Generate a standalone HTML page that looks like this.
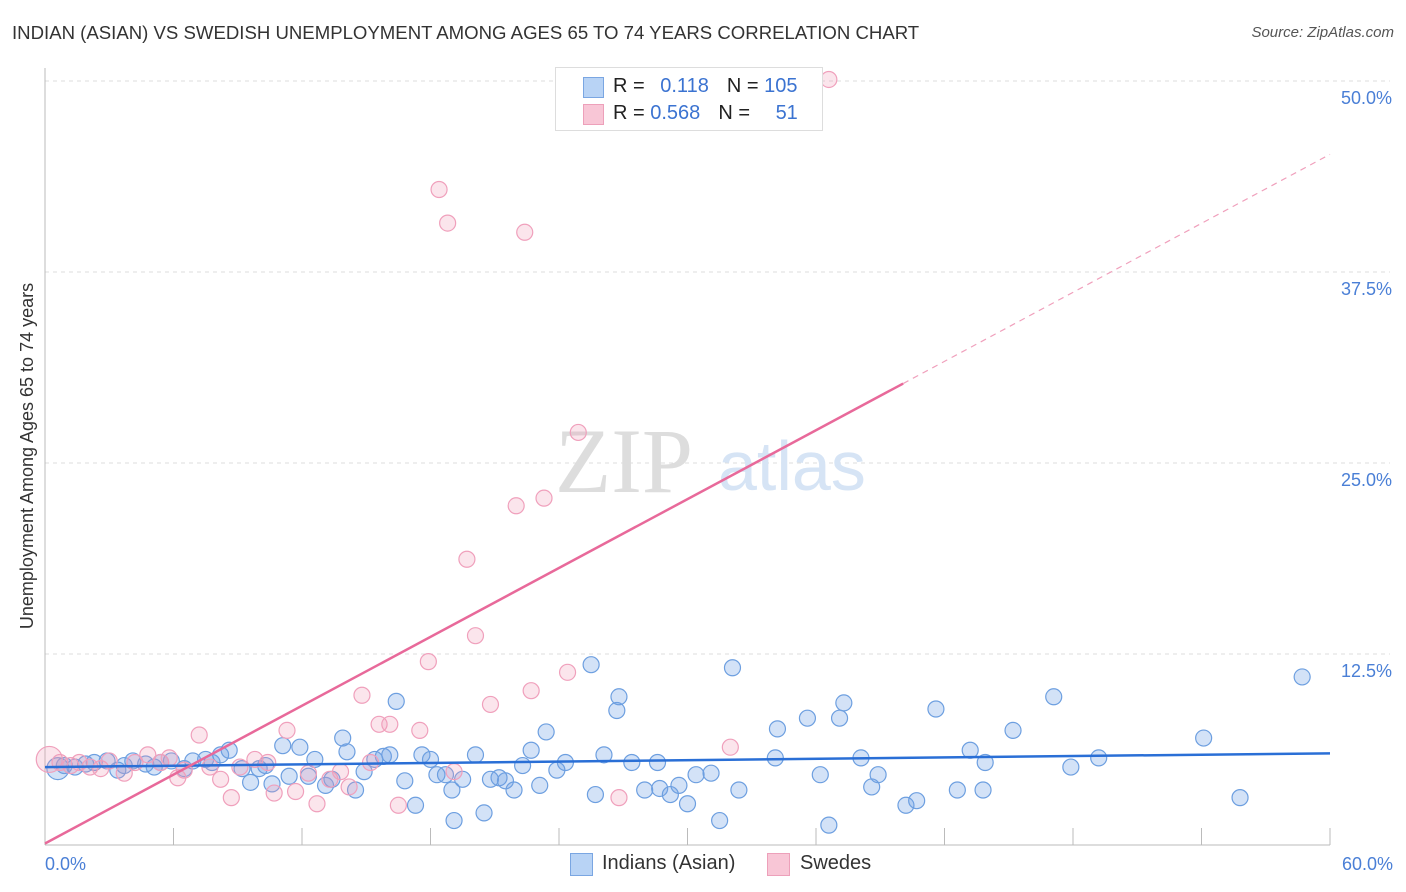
<!DOCTYPE html>
<html><head><meta charset="utf-8"><style>
body{margin:0;background:#fff;font-family:"Liberation Sans",sans-serif;}
#wrap{position:relative;width:1406px;height:892px;}
.t{position:absolute;white-space:nowrap;}
</style></head><body>
<div id="wrap">
<div class="t" style="left:12px;top:22px;font-size:18.6px;color:#333">INDIAN (ASIAN) VS SWEDISH UNEMPLOYMENT AMONG AGES 65 TO 74 YEARS CORRELATION CHART</div>
<div class="t" style="right:12px;top:24px;font-size:15px;color:#555;font-style:italic">Source: ZipAtlas.com</div>
<svg id="svg" width="1406" height="892" style="position:absolute;left:0;top:0"></svg>
</div>
<script>
const yTicks=[12.5,25,37.5,50];
const yTickLabels=["12.5%","25.0%","37.5%","50.0%"];
const xTicks=[0,6,12,18,24,30,36,42,48,54,60];
const blueX=[0.6,0.9,1.4,1.9,2.3,2.9,3.4,3.7,4.1,4.7,5.1,5.4,5.9,6.5,6.9,7.5,7.8,8.2,8.6,9.2,9.6,10.0,10.3,10.6,11.1,11.4,11.9,12.3,12.6,13.1,13.4,13.9,14.1,14.5,14.9,15.4,15.8,16.1,16.4,16.8,17.3,17.6,18.0,18.3,18.7,19.0,19.1,19.5,20.1,20.5,20.8,21.2,21.5,21.9,22.3,22.7,23.1,23.4,23.9,24.3,25.5,25.7,26.1,26.7,26.8,27.4,28.0,28.6,28.7,29.2,29.6,30.0,30.4,31.1,31.5,32.1,32.4,34.1,34.2,35.6,36.2,36.6,37.1,37.3,38.1,38.6,38.9,40.2,40.7,41.6,42.6,43.2,43.9,43.8,45.2,47.1,47.9,49.2,54.1,55.8,58.7];
const blueY=[5.0,5.2,5.1,5.3,5.4,5.5,4.9,5.2,5.5,5.3,5.1,5.4,5.5,5.0,5.5,5.6,5.4,5.9,6.2,5.0,4.1,5.0,5.2,4.0,6.5,4.5,6.4,4.5,5.6,3.9,4.3,7.0,6.1,3.6,4.8,5.6,5.8,5.9,9.4,4.2,2.6,5.9,5.6,4.6,4.6,3.6,1.6,4.3,5.9,2.1,4.3,4.4,4.2,3.6,5.2,6.2,3.9,7.4,4.9,5.4,11.8,3.3,5.9,8.8,9.7,5.4,3.6,5.4,3.7,3.3,3.9,2.7,4.6,4.7,1.6,11.6,3.6,5.7,7.6,8.3,4.6,1.3,8.3,9.3,5.7,3.8,4.6,2.6,2.9,8.9,3.6,6.2,5.4,3.6,7.5,9.7,5.1,5.7,7.0,3.1,11.0];
const pinkX=[0.2,0.7,1.2,1.6,2.1,2.6,3.0,3.7,4.2,4.8,5.4,5.8,6.2,6.5,7.2,7.7,8.2,8.7,9.1,9.8,10.4,10.7,11.3,11.7,12.3,12.7,13.3,13.8,14.2,14.8,15.2,15.6,16.1,16.5,17.5,17.9,18.4,18.8,19.1,19.7,20.1,20.8,22.0,22.4,22.7,23.3,24.4,24.9,26.8,32.0,36.6];
const pinkY=[5.6,5.4,5.2,5.4,5.1,5.0,5.5,4.7,5.4,5.9,5.4,5.7,4.4,4.9,7.2,5.1,4.3,3.1,5.1,5.6,5.4,3.4,7.5,3.5,4.7,2.7,4.3,4.8,3.8,9.8,5.4,7.9,7.9,2.6,7.5,12.0,42.9,40.7,4.8,18.7,13.7,9.2,22.2,40.1,10.1,22.7,11.3,27.0,3.1,6.4,50.1];
const blueLine=[[0,5.1],[60,6.0]];
const pinkLine=[[0,0.1],[40.07,30.2]];
const pinkDash=[[40.07,30.2],[60,45.2]];

const svg=document.getElementById('svg');const NS='http://www.w3.org/2000/svg';
const X0=45,X1=1330,Y0=845,YS=191/12.5;
const sx=v=>X0+(X1-X0)*v/60, sy=v=>Y0-v*YS;
function el(t,a,p){const e=document.createElementNS(NS,t);for(const k in a)e.setAttribute(k,a[k]);(p||svg).appendChild(e);return e;}
yTicks.forEach((v,i)=>{const g=el('line',{x1:X0,x2:1390,y1:sy(v),y2:sy(v),stroke:'#ddd','stroke-dasharray':'4,4'});

const t=el('text',{x:1392,y:sy(v)+23,'text-anchor':'end','font-size':18,fill:'#4a7fd6'});t.textContent=yTickLabels[i];
});
const ax=el('line',{x1:X0,x2:X0,y1:68,y2:845,stroke:'#bbb'});
const bx=el('line',{x1:X0,x2:X1,y1:845,y2:845,stroke:'#bbb'});
xTicks.forEach(v=>{const l=el('line',{x1:sx(v),x2:sx(v),y1:828,y2:845,stroke:'#bbb'});});
[[0,'0.0%','start',45],[60,'60.0%','end',1393]].forEach(a=>{const t=el('text',{x:a[3],y:870,'text-anchor':a[2],'font-size':18,fill:'#4a7fd6'});t.textContent=a[1];});
const w=el('text',{x:555,y:492,'font-size':92,fill:'#ddd','font-family':'Liberation Serif,serif'});w.textContent='ZIP';
const w2=el('text',{x:718,y:490,'font-size':70,fill:'#d6e4f5'});w2.textContent='atlas';
const yt=el('text',{x:0,y:0,transform:'translate(33,456) rotate(-90)','text-anchor':'middle','font-size':18,fill:'#333'});yt.textContent='Unemployment Among Ages 65 to 74 years';
blueX.forEach((v,i)=>{const c=el('circle',{cx:sx(v),cy:sy(blueY[i]),r:i==0?11:8,fill:'rgba(110,160,230,0.3)',stroke:'#6d9fe0','stroke-width':1.2});});
pinkX.forEach((v,i)=>{const c=el('circle',{cx:sx(v),cy:sy(pinkY[i]),r:i==0?13:8,fill:'rgba(240,150,180,0.25)',stroke:'#f0a0bc','stroke-width':1.2});});
const l1=el('line',{x1:sx(blueLine[0][0]),y1:sy(blueLine[0][1]),x2:sx(blueLine[1][0]),y2:sy(blueLine[1][1]),stroke:'#2a6fd6','stroke-width':2.5});
const l2=el('line',{x1:sx(pinkLine[0][0]),y1:sy(pinkLine[0][1]),x2:sx(pinkLine[1][0]),y2:sy(pinkLine[1][1]),stroke:'#e8699a','stroke-width':2.5});
const l3=el('line',{x1:sx(pinkDash[0][0]),y1:sy(pinkDash[0][1]),x2:sx(pinkDash[1][0]),y2:sy(pinkDash[1][1]),stroke:'#f0a0bc','stroke-width':1.2,'stroke-dasharray':'6,5'});
</script>
<div class="t" style="left:555px;top:67px;width:266px;height:62px;background:#fff;border:1px solid #ddd;font-size:20px;color:#222">
<div class="t" style="left:27px;top:9px;width:19px;height:19px;background:#b8d3f5;border:1px solid #7aa6e2"></div>
<div class="t" style="left:57px;top:7px">R = <span style="color:#3b73d1;margin-left:10px">0.118</span><span style="margin-left:18px">N = </span><span style="color:#3b73d1">105</span></div>
<div class="t" style="left:27px;top:36px;width:19px;height:19px;background:#f8c6d6;border:1px solid #eda0ba"></div>
<div class="t" style="left:57px;top:34px">R = <span style="color:#3b73d1">0.568</span><span style="margin-left:18px">N = </span><span style="color:#3b73d1;margin-left:20px">51</span></div>
</div>
<div class="t" style="left:570px;top:853px;width:21px;height:21px;background:#b8d3f5;border:1px solid #7aa6e2"></div>
<div class="t" style="left:602px;top:852px;font-size:20px;color:#333">Indians (Asian)</div>
<div class="t" style="left:767px;top:853px;width:21px;height:21px;background:#f8c6d6;border:1px solid #eda0ba"></div>
<div class="t" style="left:800px;top:852px;font-size:20px;color:#333">Swedes</div>
</body></html>
